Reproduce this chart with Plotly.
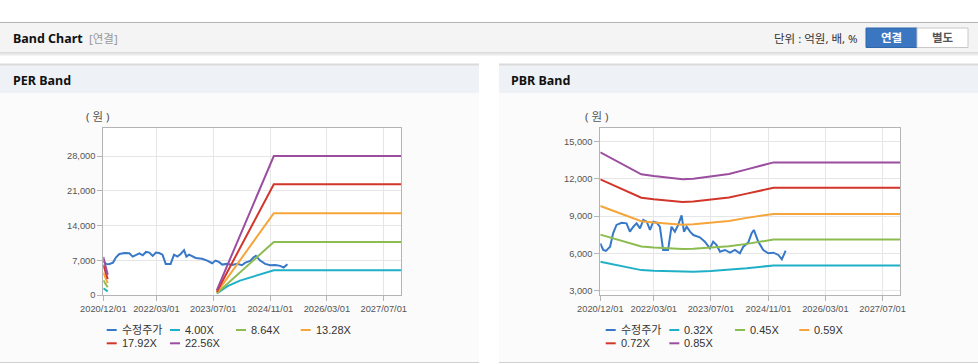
import plotly.graph_objects as go

# ---------------- data ----------------
price_name = "수정주가"
price_dates = [
    "2020-12-01", "2020-12-26", "2021-01-18", "2021-02-22", "2021-03-20", "2021-04-18",
    "2021-05-31", "2021-07-12", "2021-08-10", "2021-09-08", "2021-10-06", "2021-11-04",
    "2021-12-02", "2021-12-31", "2022-01-28", "2022-02-25", "2022-03-25", "2022-04-22",
    "2022-05-20", "2022-07-01", "2022-07-30", "2022-08-28", "2022-09-25", "2022-10-24",
    "2022-11-13", "2022-12-06", "2023-01-04", "2023-02-01", "2023-03-28", "2023-05-10",
    "2023-06-22", "2023-07-20", "2023-08-18", "2023-09-16", "2023-10-28", "2023-12-10",
    "2024-01-21", "2024-03-03", "2024-04-01", "2024-05-13", "2024-06-11", "2024-06-30",
    "2024-08-06", "2024-09-18", "2024-10-31", "2024-12-13", "2025-01-25", "2025-02-23",
    "2025-03-28",
]
price_values = [
    6800, 6270, 6190, 6530, 7610, 8280,
    8460, 8410, 7740, 8140, 8410, 8010,
    8680, 8540, 7880, 8540, 8460, 8140,
    6270, 6270, 8140, 7740, 8280, 9050,
    7740, 8140, 7740, 7470, 7290, 6940,
    6400, 6940, 6670, 6130, 6270, 6050,
    6270, 6000, 6530, 6860, 7610, 7880,
    6940, 6270, 6000, 6050, 5870, 5520,
    6210,
]

x_range = ["2020-12-01", "2027-11-26"]
x_tick_dates = ["2020-12-01", "2022-03-01", "2023-07-01", "2024-11-01", "2026-03-01", "2027-07-01"]
x_tick_labels = ["2020/12/01", "2022/03/01", "2023/07/01", "2024/11/01", "2026/03/01", "2027/07/01"]

# PER band
per_band_dates = ["2020-12-01", "2021-01-08", "2022-01-01", "2023-08-01", "2023-11-01",
                  "2024-02-15", "2024-07-15", "2024-12-01", "2027-11-26"]
per_band_names = ["4.00X", "8.64X", "13.28X", "17.92X", "22.56X"]
per_4_00 = [1360, 720, None, 300, 1800, 2900, 4050, 4990, 4990]
per_8_64 = [2940, 1560, None, 340, 2280, 4570, 7790, 10700, 10700]
per_13_28 = [4520, 2390, None, 470, 3490, 7050, 12090, 16500, 16500]
per_17_92 = [6100, 3230, None, 670, 4770, 9600, 16390, 22300, 22300]
per_22_56 = [7670, 4060, None, 1000, 6100, 12120, 20550, 28000, 28000]
per_y_ticks = [0, 7000, 14000, 21000, 28000]
per_y_range = [0, 33600]

# PBR band
pbr_band_dates = ["2020-12-01", "2021-04-15", "2021-11-15", "2022-03-01", "2022-11-01",
                  "2023-02-01", "2023-07-01", "2023-12-01", "2024-05-01", "2024-12-15",
                  "2027-11-26"]
pbr_band_names = ["0.32X", "0.45X", "0.59X", "0.72X", "0.85X"]
pbr_0_32 = [5320, 5060, 4650, 4600, 4500, 4520, 4580, 4660, 4800, 5030, 5030]
pbr_0_45 = [7500, 7130, 6550, 6470, 6340, 6360, 6450, 6560, 6760, 7110, 7110]
pbr_0_59 = [9800, 9330, 8580, 8470, 8300, 8330, 8440, 8590, 8850, 9170, 9170]
pbr_0_72 = [11950, 11380, 10470, 10340, 10130, 10170, 10300, 10480, 10800, 11270, 11270]
pbr_0_85 = [14120, 13450, 12350, 12210, 11950, 12000, 12160, 12380, 12750, 13310, 13310]
pbr_y_ticks = [3000, 6000, 9000, 12000, 15000]
pbr_y_range = [2650, 16050]

# ---------------- style ----------------
W, H = 978, 364
C_PRICE = "#3778c8"
BAND_COLORS = ["#1fb0c7", "#8cbc4f", "#f5a53a", "#d2352a", "#9b4ea0"]
TICK_FONT = dict(family="Liberation Sans, Arial, Noto Sans CJK KR", size=9.3, color="#555555")
KFONT = "Noto Sans, Noto Sans CJK KR"


def X(px):
    return px / W


def Y(py):
    return 1 - py / H


fig = go.Figure()

per_bands = [per_4_00, per_8_64, per_13_28, per_17_92, per_22_56]
pbr_bands = [pbr_0_32, pbr_0_45, pbr_0_59, pbr_0_72, pbr_0_85]

fig.add_trace(go.Scatter(x=price_dates, y=price_values, name=price_name, mode="lines",
                         line=dict(color=C_PRICE, width=2), xaxis="x", yaxis="y"))
for nm, vals, col in zip(per_band_names, per_bands, BAND_COLORS):
    fig.add_trace(go.Scatter(x=per_band_dates, y=vals, name=nm, mode="lines",
                             line=dict(color=col, width=2), xaxis="x", yaxis="y"))

fig.add_trace(go.Scatter(x=price_dates, y=price_values, name=price_name, mode="lines",
                         line=dict(color=C_PRICE, width=2), xaxis="x2", yaxis="y2"))
for nm, vals, col in zip(pbr_band_names, pbr_bands, BAND_COLORS):
    fig.add_trace(go.Scatter(x=pbr_band_dates, y=vals, name=nm, mode="lines",
                             line=dict(color=col, width=2), xaxis="x2", yaxis="y2"))


def xaxis_cfg(x0, x1, anchor):
    return dict(domain=[X(x0), X(x1)], anchor=anchor, type="date", range=x_range,
                tickvals=x_tick_dates, ticktext=x_tick_labels, showgrid=True,
                gridcolor="#e6e6e6", gridwidth=1, showline=True, linecolor="#b4b4b4",
                linewidth=1, mirror=True, ticks="outside", ticklen=5, tickcolor="#b4b4b4",
                tickfont=TICK_FONT, zeroline=False, fixedrange=True, automargin=False)


def yaxis_cfg(anchor, rng, ticks):
    return dict(domain=[Y(295), Y(128.3)], anchor=anchor, range=rng, tickvals=ticks,
                tickformat=",d", showgrid=True, gridcolor="#e6e6e6", gridwidth=1,
                showline=True, linecolor="#b4b4b4", linewidth=1, mirror=True,
                ticks="outside", ticklen=5, tickcolor="#b4b4b4", tickfont=TICK_FONT,
                zeroline=False, fixedrange=True, automargin=False)


shapes = []


def rect(x0, y0, x1, y1, fill, line_color=None, lw=0, layer="below"):
    shapes.append(dict(type="rect", xref="paper", yref="paper", x0=X(x0), x1=X(x1),
                       y0=Y(y1), y1=Y(y0), fillcolor=fill, layer=layer,
                       line=dict(width=lw, color=line_color or fill)))


def hline(x0, x1, y, color, w=1, layer="below"):
    shapes.append(dict(type="line", xref="paper", yref="paper", x0=X(x0), x1=X(x1),
                       y0=Y(y), y1=Y(y), layer=layer, line=dict(color=color, width=w)))


# page header
rect(0, 22, 978, 53, "#f4f4f4")
hline(0, 978, 22.5, "#b4b4b4", 1)
hline(0, 978, 53, "#c4c4c4", 1)
hline(0, 978, 54.5, "#e9e9e9", 2)
# buttons
rect(866, 28, 917, 47.5, "#3a77c0", "#2f67aa", 1)
rect(917, 28, 968, 47.5, "#ffffff", "#c8c8c8", 1)

# panels
for px0, px1 in [(0, 479), (499, 978)]:
    rect(px0, 64, px1, 363, "#fbfbfb")
    rect(px0, 64, px1, 93, "#eef2f7")
    hline(px0, px1, 64.5, "#dadada", 2)
    hline(px0, px1, 362.5, "#d0d0d0", 1)

# white plot backgrounds
for xr, yr in [("x", "y"), ("x2", "y2")]:
    shapes.append(dict(type="rect", xref=xr + " domain", yref=yr + " domain", x0=0, x1=1,
                       y0=0, y1=1, fillcolor="#ffffff", line=dict(width=0), layer="below"))

annotations = []


def text(t, x, y, size=12, color="#333333", bold=False, anchor="left", family=KFONT):
    annotations.append(dict(text=("<b>%s</b>" % t) if bold else t, x=X(x), y=Y(y),
                            xref="paper", yref="paper", showarrow=False, xanchor=anchor,
                            yanchor="middle", font=dict(family=family, size=size, color=color)))


text("Band Chart", 11, 38.5, 12.5, "#111111", True)
text("[연결]", 87, 38.5, 11.5, "#999999")
text("단위 : 억원, 배, %", 860, 38.5, 11.5, "#333333", anchor="right")
text("연결", 891.5, 38, 11.5, "#ffffff", True, "center")
text("별도", 942.5, 38, 11.5, "#555555", True, "center")
text("PER Band", 11, 80.5, 12.5, "#111111", True)
text("PBR Band", 509, 80.5, 12.5, "#111111", True)
text("( 원 )", 97.5, 117, 11.5, "#555555", anchor="center")
text("( 원 )", 596, 117, 11.5, "#555555", anchor="center")

# manual legends (Highcharts-like: short line + label)
LEG_FONT = "Liberation Sans, Arial, Noto Sans CJK KR"
per_legend_items = [price_name] + per_band_names
pbr_legend_items = [price_name] + pbr_band_names
legend_colors = [C_PRICE] + BAND_COLORS
per_legend_pos = [(106.7, 330), (170, 330), (236, 330), (300.7, 330), (106.7, 343.3), (170, 343.3)]
pbr_legend_pos = [(605.7, 330), (669.3, 330), (735, 330), (799.3, 330), (605.7, 343.3), (669.3, 343.3)]
for items, poss in [(per_legend_items, per_legend_pos), (pbr_legend_items, pbr_legend_pos)]:
    for nm, (lx, ly), col in zip(items, poss, legend_colors):
        shapes.append(dict(type="line", xref="paper", yref="paper", x0=X(lx), x1=X(lx + 10),
                           y0=Y(ly), y1=Y(ly), layer="above", line=dict(color=col, width=2)))
        text(nm, lx + 13, ly, 11, "#333333", family=LEG_FONT)

fig.update_layout(
    width=W, height=H, autosize=False,
    margin=dict(l=0, r=0, t=0, b=0, pad=0, autoexpand=False),
    paper_bgcolor="#ffffff", plot_bgcolor="#ffffff",
    showlegend=False,
    xaxis=xaxis_cfg(103.3, 401, "y"),
    yaxis=yaxis_cfg("x", per_y_range, per_y_ticks),
    xaxis2=xaxis_cfg(600.3, 900, "y2"),
    yaxis2=yaxis_cfg("x2", pbr_y_range, pbr_y_ticks),
    shapes=shapes,
    annotations=annotations,
    hovermode=False,
)

fig.write_html("out.html", config={"displayModeBar": False},
               post_script="document.body.style.margin='0';document.body.style.overflow='hidden';")
